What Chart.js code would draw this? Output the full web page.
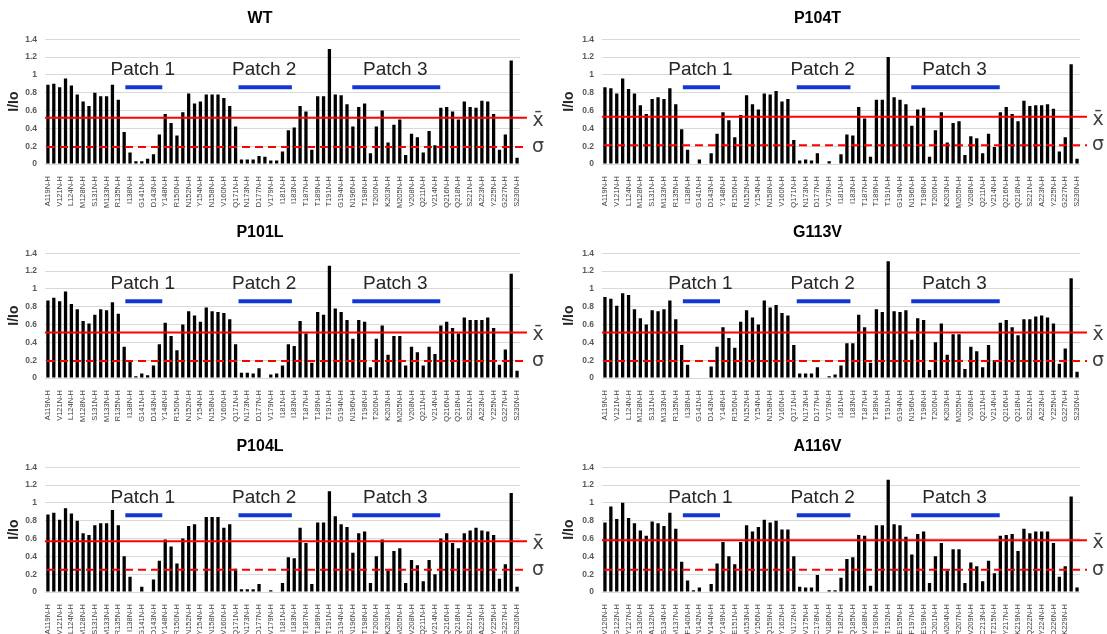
<!DOCTYPE html>
<html>
<head>
<meta charset="utf-8">
<script src="https://cdn.jsdelivr.net/npm/chart.js@4.4.1/dist/chart.umd.min.js"></script>
<style>
    body { margin: 0; background: #fff; width: 1107px; height: 634px; overflow: hidden; position: relative; }
    canvas { position: absolute; }
</style>
</head>
<body>
<canvas id="c0" width="550" height="214" style="left:0;top:0"></canvas>
<canvas id="c1" width="552" height="214" style="left:555px;top:0"></canvas>
<canvas id="c2" width="550" height="214" style="left:0;top:214px"></canvas>
<canvas id="c3" width="552" height="214" style="left:555px;top:214px"></canvas>
<canvas id="c4" width="550" height="214" style="left:0;top:428px"></canvas>
<canvas id="c5" width="552" height="214" style="left:555px;top:428px"></canvas>
<script>
// residue labels (only every other residue is labelled on the axis)
const residues = ['A119N-H', 'V121N-H', 'L124N-H', 'M128N-H', 'S131N-H', 'M133N-H', 'R135N-H', 'I138N-H',
    'G141N-H', 'D143N-H', 'Y148N-H', 'R150N-H', 'N152N-H', 'Y154N-H', 'N158N-H', 'V160N-H', 'Q171N-H',
    'N173N-H', 'D177N-H', 'V179N-H', 'I181N-H', 'I183N-H', 'T187N-H', 'T189N-H', 'T191N-H', 'G194N-H',
    'N196N-H', 'T198N-H', 'T200N-H', 'K203N-H', 'M205N-H', 'V208N-H', 'Q211N-H', 'V214N-H', 'Q216N-H',
    'Q218N-H', 'S221N-H', 'A223N-H', 'Y225N-H', 'G227N-H', 'S230N-H'];
const residuesA116V = ['V120N-H', 'G122N-H', 'Y127N-H', 'G130N-H', 'A132N-H', 'S134N-H', 'M137N-H', 'F140N-H',
    'N142N-H', 'W144N-H', 'Y149N-H', 'E151N-H', 'M153N-H', 'Y156N-H', 'Q159N-H', 'Y162N-H', 'N172N-H',
    'V175N-H', 'C178N-H', 'N180N-H', 'T182N-H', 'Q185N-H', 'V188N-H', 'T190N-H', 'T192N-H', 'E195N-H',
    'F197N-H', 'E199N-H', 'D201N-H', 'M204N-H', 'R207N-H', 'V209N-H', 'C213N-H', 'T215N-H', 'Y217N-H',
    'K219N-H', 'Q222N-H', 'Y224N-H', 'D226N-H', 'K229N-H', ''];

const panelNames = ['WT', 'P104T', 'P101L', 'G113V', 'P104L', 'A116V'];

const wt = [0.89, 0.90, 0.86, 0.96, 0.88, 0.78, 0.70, 0.65, 0.80, 0.76,
    0.76, 0.89, 0.72, 0.36, 0.13, 0.03, 0.03, 0.06, 0.11, 0.33,
    0.56, 0.46, 0.32, 0.58, 0.79, 0.68, 0.70, 0.78, 0.78, 0.78,
    0.74, 0.65, 0.42, 0.05, 0.05, 0.05, 0.09, 0.08, 0.04, 0.04,
    0.14, 0.38, 0.41, 0.65, 0.59, 0.16, 0.76, 0.76, 1.29, 0.78,
    0.77, 0.67, 0.42, 0.64, 0.68, 0.12, 0.42, 0.60, 0.24, 0.44,
    0.50, 0.10, 0.34, 0.30, 0.13, 0.37, 0.21, 0.63, 0.64, 0.59,
    0.50, 0.70, 0.64, 0.63, 0.71, 0.70, 0.56, 0.16, 0.33, 1.16,
    0.07];
const p104t = [0.86, 0.85, 0.79, 0.96, 0.84, 0.79, 0.66, 0.56, 0.73, 0.75,
    0.73, 0.85, 0.67, 0.39, 0.16, 0, 0.05, 0, 0.12, 0.34,
    0.58, 0.49, 0.30, 0.55, 0.77, 0.67, 0.61, 0.79, 0.78, 0.82,
    0.70, 0.73, 0.27, 0.04, 0.05, 0.04, 0.12, 0, 0.03, 0,
    0.11, 0.33, 0.32, 0.64, 0.51, 0.08, 0.72, 0.72, 1.20, 0.75,
    0.72, 0.67, 0.43, 0.61, 0.63, 0.08, 0.38, 0.58, 0.24, 0.46,
    0.48, 0.10, 0.31, 0.29, 0.12, 0.34, 0.19, 0.58, 0.64, 0.56,
    0.48, 0.71, 0.65, 0.66, 0.66, 0.67, 0.62, 0.14, 0.30, 1.12,
    0.06];
const p101l = [0.87, 0.90, 0.86, 0.97, 0.83, 0.77, 0.64, 0.61, 0.71, 0.77,
    0.76, 0.85, 0.72, 0.35, 0.19, 0.02, 0.05, 0.03, 0.14, 0.38,
    0.62, 0.47, 0.31, 0.60, 0.75, 0.70, 0.63, 0.79, 0.75, 0.74,
    0.73, 0.66, 0.38, 0.06, 0.06, 0.05, 0.11, 0, 0.04, 0.05,
    0.14, 0.38, 0.36, 0.64, 0.50, 0.17, 0.74, 0.71, 1.26, 0.78,
    0.74, 0.65, 0.44, 0.65, 0.63, 0.12, 0.44, 0.59, 0.26, 0.47,
    0.47, 0.14, 0.35, 0.29, 0.14, 0.35, 0.27, 0.59, 0.63, 0.56,
    0.50, 0.68, 0.65, 0.65, 0.65, 0.68, 0.56, 0.15, 0.32, 1.17,
    0.08];
const g113v = [0.91, 0.89, 0.81, 0.95, 0.93, 0.77, 0.67, 0.60, 0.76, 0.75,
    0.77, 0.87, 0.66, 0.37, 0.15, 0, 0, 0, 0.13, 0.35,
    0.57, 0.45, 0.34, 0.63, 0.76, 0.68, 0.60, 0.87, 0.79, 0.82,
    0.73, 0.70, 0.37, 0.05, 0.05, 0.05, 0.12, 0, 0.02, 0.04,
    0.14, 0.39, 0.39, 0.71, 0.57, 0.17, 0.77, 0.74, 1.31, 0.75,
    0.74, 0.76, 0.43, 0.67, 0.65, 0.09, 0.40, 0.61, 0.26, 0.49,
    0.49, 0.10, 0.35, 0.30, 0.12, 0.37, 0.20, 0.62, 0.65, 0.57,
    0.48, 0.66, 0.66, 0.69, 0.70, 0.68, 0.61, 0.16, 0.33, 1.12,
    0.07];
const p104l = [0.87, 0.89, 0.81, 0.94, 0.88, 0.80, 0.66, 0.64, 0.75, 0.77,
    0.77, 0.92, 0.75, 0.40, 0.17, 0, 0.06, 0, 0.14, 0.35,
    0.59, 0.51, 0.32, 0.60, 0.74, 0.76, 0, 0.84, 0.84, 0.84,
    0.72, 0.76, 0.26, 0.03, 0.03, 0.03, 0.09, 0, 0.02, 0,
    0.10, 0.39, 0.38, 0.72, 0.55, 0.09, 0.78, 0.78, 1.13, 0.85,
    0.76, 0.73, 0.44, 0.66, 0.68, 0.10, 0.40, 0.59, 0.24, 0.46,
    0.49, 0.10, 0.36, 0.30, 0.12, 0.36, 0.20, 0.60, 0.66, 0.55,
    0.49, 0.66, 0.69, 0.72, 0.69, 0.68, 0.64, 0.15, 0.31, 1.11,
    0.06];
const a116v = [0.78, 0.96, 0.82, 1.00, 0.83, 0.77, 0.69, 0.63, 0.79, 0.77,
    0.74, 0.89, 0.71, 0.34, 0.13, 0.02, 0.05, 0, 0.09, 0.32,
    0.56, 0.40, 0.31, 0.56, 0.75, 0.68, 0.73, 0.81, 0.78, 0.80,
    0.70, 0.70, 0.40, 0.06, 0.05, 0.05, 0.19, 0, 0.02, 0.02,
    0.16, 0.37, 0.39, 0.64, 0.63, 0.07, 0.75, 0.75, 1.26, 0.76,
    0.75, 0.62, 0.42, 0.65, 0.68, 0.10, 0.40, 0.55, 0.24, 0.48,
    0.48, 0.10, 0.33, 0.29, 0.12, 0.35, 0.21, 0.63, 0.64, 0.65,
    0.46, 0.71, 0.66, 0.68, 0.68, 0.68, 0.55, 0.17, 0.29, 1.07,
    0.05];

// mean (x bar) and sigma cut-off lines per panel
const means = [0.52, 0.53, 0.51, 0.51, 0.57, 0.58];
const sigmas = [0.19, 0.21, 0.19, 0.19, 0.25, 0.25];

const patchNames = ['Patch 1', 'Patch 2', 'Patch 3'];

Chart.defaults.font.family = '"Liberation Sans", Arial, sans-serif';

// patch ranges in category (index) units
const patchFrom = [13.2, 32.5, 51.9];
const patchTo = [19.5, 41.6, 66.9];

const panelDecor = {
    id: 'panelDecor',
    afterDatasetsDraw(chart, args, opts) {
        const ctx = chart.ctx;
        const area = chart.chartArea;
        const x = chart.scales.x;
        const y = chart.scales.y;
        ctx.save();
        // patches: label + blue bar
        ctx.font = '19px "Liberation Sans", Arial, sans-serif';
        ctx.textAlign = 'center';
        ctx.textBaseline = 'alphabetic';
        for (let i = 0; i < patchNames.length; i++) {
            const x0 = x.getPixelForValue(patchFrom[i]);
            const x1 = x.getPixelForValue(patchTo[i]);
            ctx.fillStyle = '#262626';
            ctx.fillText(patchNames[i], (x0 + x1) / 2 - 1, y.getPixelForValue(1.0));
            ctx.strokeStyle = '#1238d4';
            ctx.lineWidth = 4;
            ctx.beginPath();
            const py = y.getPixelForValue(0.86);
            ctx.moveTo(x0, py);
            ctx.lineTo(x1, py);
            ctx.stroke();
        }
        // mean line
        ctx.strokeStyle = '#ff0000';
        ctx.lineWidth = 2;
        const my = y.getPixelForValue(opts.mean);
        ctx.beginPath();
        ctx.moveTo(area.left, my);
        ctx.lineTo(area.right + 7, my);
        ctx.stroke();
        // sigma line, dashed
        const sy = y.getPixelForValue(opts.sigma);
        ctx.setLineDash([8, 5]);
        ctx.beginPath();
        ctx.moveTo(area.left + 2, sy);
        ctx.lineTo(area.right + 7, sy);
        ctx.stroke();
        ctx.setLineDash([]);
        // symbols on the right
        ctx.fillStyle = '#404040';
        ctx.font = '19px "DejaVu Sans", sans-serif';
        ctx.textAlign = 'center';
        ctx.textBaseline = 'middle';
        ctx.fillText('x\u0304', area.right + 18, my + 3);
        ctx.fillText('\u03c3', area.right + 18, sy);
        ctx.restore();
    }
};

const allSeries = [wt, p104t, p101l, g113v, p104l, a116v];

for (let p = 0; p < 6; p++) {
    const names = p === 5 ? residuesA116V : residues;
    // every residue gets a slot; only the even ones carry a label
    const cats = [];
    for (let i = 0; i < allSeries[p].length; i++) {
        cats.push(i % 2 === 0 ? names[i / 2] : '');
    }
    const rightCol = p % 2 === 1;
    const config = {
        type: 'bar',
        data: {
            labels: cats,
            datasets: [{
                data: allSeries[p],
                backgroundColor: '#000',
                barPercentage: 0.56,
                categoryPercentage: 1.0
            }]
        },
        options: {
            responsive: false,
            animation: false,
            layout: { padding: { left: 0, right: rightCol ? 27 : 30, top: 0, bottom: 0 } },
            plugins: {
                legend: { display: false },
                tooltip: { enabled: false },
                title: {
                    display: true,
                    text: panelNames[p],
                    color: '#000',
                    font: { size: 16, weight: 'bold' },
                    padding: { top: 9, bottom: 11 }
                },
                panelDecor: { mean: means[p], sigma: sigmas[p] }
            },
            scales: {
                x: {
                    grid: { display: false },
                    border: { display: false },
                    ticks: {
                        autoSkip: false,
                        minRotation: 90,
                        maxRotation: 90,
                        padding: 4,
                        color: '#404040',
                        font: { size: 7.5 },
                        callback: function (v, i) { return cats[i]; }
                    },
                    afterFit: function (scale) { scale.height = 50; }
                },
                y: {
                    min: 0,
                    max: 1.4,
                    ticks: {
                        stepSize: 0.2,
                        padding: 8,
                        color: '#595959',
                        font: { size: 8.5, weight: 'bold' },
                        // excel style: 1 instead of 1.0
                        callback: function (v) { return String(Math.round(v * 10) / 10); }
                    },
                    grid: { color: '#d9d9d9', drawTicks: false },
                    border: { display: false },
                    title: {
                        display: true,
                        text: 'I/Io',
                        color: '#262626',
                        font: { size: 14, weight: 'bold' },
                        padding: { top: 6, bottom: 0 }
                    },
                    afterFit: function (scale) { scale.width = rightCol ? 47 : 45; }
                }
            }
        },
        plugins: [panelDecor]
    };
    new Chart(document.getElementById('c' + p).getContext('2d'), config);
}
</script>
</body>
</html>
